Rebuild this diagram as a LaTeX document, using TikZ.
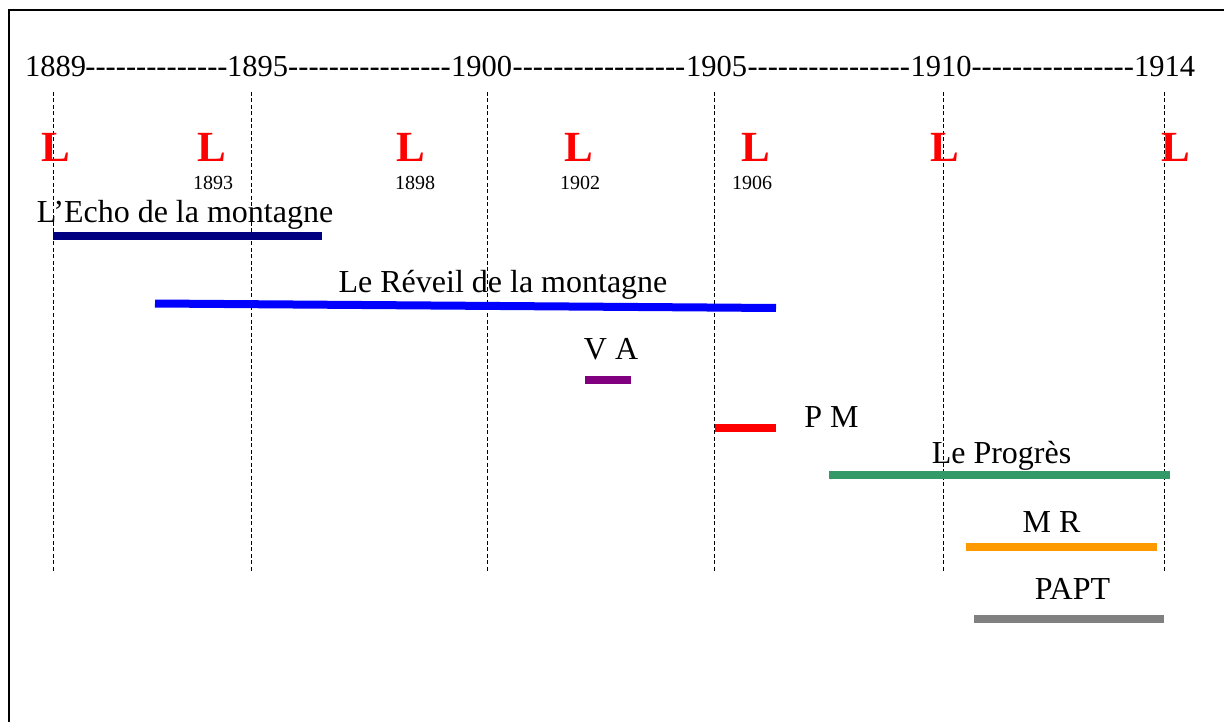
\documentclass[tikz,border=0pt]{standalone}
\usepackage{fontspec}
\setmainfont{Liberation Serif}
\usetikzlibrary{calc}
\definecolor{bleunuit}{RGB}{0,0,128}
\definecolor{violet}{RGB}{128,0,128}
\definecolor{vertmer}{RGB}{51,153,102}
\definecolor{orangeb}{RGB}{255,153,0}
\definecolor{grisb}{RGB}{128,128,128}
\newcommand\tirets[1]{\foreach\k in {1,...,#1}{-}}

\begin{document}
\begin{tikzpicture}[x=1pt,y=-1pt,
	annee/.style={anchor=base,inner sep=0pt,font=\fontsize{30.5}{36}\selectfont},
	texte/.style={anchor=base,inner sep=0pt,font=\fontsize{32}{38}\selectfont},
	lettre/.style={anchor=base,inner sep=0pt,text=red,font=\fontsize{43}{50}\selectfont\bfseries},
	petit/.style={anchor=base,inner sep=0pt,font=\fontsize{20}{24}\selectfont},
	barre/.style={line width=8pt},
	repere/.style={dash pattern=on 4pt off 2.5pt,line width=0.9pt}]
	\useasboundingbox (0,0) rectangle (1224,722);
	\draw[line width=2.5pt] (9,722) -- (9,10) -- (1224,10);
	
	% annees
	\node[annee](y1889)at(55.5,77) {1889};
	\node[annee](y1895)at(257.5,77) {1895};
	\node[annee](y1900)at(481.5,77) {1900};
	\node[annee](y1905)at(716.5,77) {1905};
	\node[annee](y1910)at(941,77) {1910};
	\node[annee](y1914)at(1164.5,77) {1914};
	\node[annee]at($(y1889.base east)!0.5!(y1895.base west)$) {\tirets{14}};
	\node[annee]at($(y1895.base east)!0.5!(y1900.base west)$) {\tirets{16}};
	\node[annee]at($(y1900.base east)!0.5!(y1905.base west)$) {\tirets{17}};
	\node[annee]at($(y1905.base east)!0.5!(y1910.base west)$) {\tirets{16}};
	\node[annee]at($(y1910.base east)!0.5!(y1914.base west)$) {\tirets{16}};
	
	\draw[repere](53,92) -- (53,572);
	\draw[repere](251,92) -- (251,572);
	\draw[repere](487,92) -- (487,572);
	\draw[repere](714,92) -- (714,572);
	\draw[repere](943,92) -- (943,572);
	\draw[repere](1164,92) -- (1164,572);
	
	% lois
	\node[lettre](l1)at(55.5,162) {L};
	\node[lettre](l2)at(212,162) {L};
	\node[lettre](l3)at(411,162) {L};
	\node[lettre](l4)at(579,162) {L};
	\node[lettre](l5)at(756,162) {L};
	\node[lettre](l6)at(945,162) {L};
	\node[lettre](l7)at(1176,162) {L};
	\node[petit]at(213,190) {1893};
	\node[petit]at(415,190) {1898};
	\node[petit]at(580,190) {1902};
	\node[petit]at(752,190) {1906};
	
	% journaux
	\node[texte](echo)at(185,223) {L’Echo de la montagne};
	\draw[barre,bleunuit](53,236) -- (322,236);
	\node[texte](reveil)at(503,292) {Le Réveil de la montagne};
	\draw[barre,blue](155,303.5) -- (776,308);
	\node[texte](va)at(611,359) {V A};
	\draw[barre,violet](585,380) -- (631,380);
	\node[texte](pm)at(831.5,427) {P M};
	\draw[barre,red](715,427.5) -- (776,427.5);
	\node[texte](progres)at(1001.5,463) {Le Progrès};
	\draw[barre,vertmer](829,475) -- (1170,475);
	\node[texte](mr)at(1051.5,532) {M R};
	\draw[barre,orangeb](966,547) -- (1157,547);
	\node[texte](papt)at(1072.5,599) {PAPT};
	\draw[barre,grisb](974,619) -- (1164,619);
\end{tikzpicture}
\end{document}
